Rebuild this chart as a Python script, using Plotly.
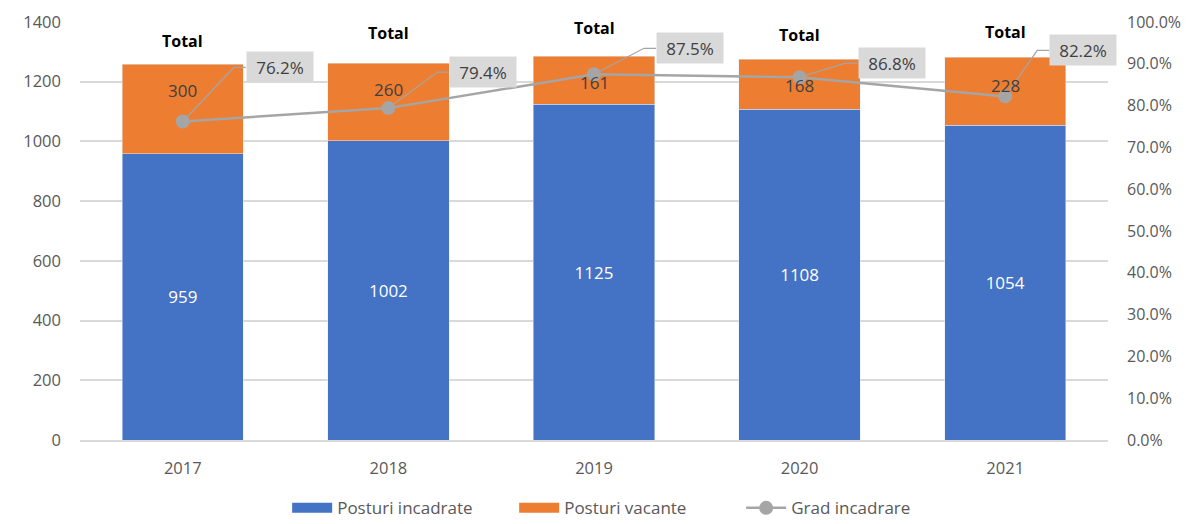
import plotly.graph_objects as go

years = ["2017", "2018", "2019", "2020", "2021"]
incadrate = [959, 1002, 1125, 1108, 1054]
vacante = [300, 260, 161, 168, 228]
grad = [0.762, 0.794, 0.875, 0.868, 0.822]
total_label = "Total"

BLUE = "#4472c4"
ORANGE = "#ed7d31"
GRAY = "#a5a5a5"
TXT = "#595959"
FONT = "Open Sans"

# label styling offsets (pixels)
total_shift = [23, 30, 28, 24, 25]
vac_shift = [18, 13, -2, -1, 6]
box_dx = [63, 61, 62, 58, 44]
box_dy = [54, 36, 26, 14, 46]

totals = [a + b for a, b in zip(incadrate, vacante)]

fig = go.Figure()
fig.add_trace(go.Bar(
    x=years, y=incadrate, name="Posturi incadrate", marker_color=BLUE,
    text=[str(v) for v in incadrate], textposition="inside", insidetextanchor="middle",
    textfont=dict(color="white", size=17, family=FONT), hoverinfo="skip", showlegend=False,
))
fig.add_trace(go.Bar(
    x=years, y=vacante, name="Posturi vacante", marker_color=ORANGE,
    hoverinfo="skip", showlegend=False,
))
# legend swatches (wide rectangles like the original)
fig.add_trace(go.Scatter(x=[None], y=[None], mode="lines", name="Posturi incadrate",
                         line=dict(color=BLUE, width=13), hoverinfo="skip"))
fig.add_trace(go.Scatter(x=[None], y=[None], mode="lines", name="Posturi vacante",
                         line=dict(color=ORANGE, width=13), hoverinfo="skip"))
fig.add_trace(go.Scatter(
    x=years, y=grad, name="Grad incadrare", yaxis="y2", mode="lines+markers",
    line=dict(color=GRAY, width=2.5), marker=dict(color=GRAY, size=14),
    hoverinfo="skip",
))

annotations = []
shapes = []
for i, yr in enumerate(years):
    annotations.append(dict(
        x=i, y=totals[i], xref="x", yref="y", text="<b>" + total_label + "</b>",
        showarrow=False, yshift=total_shift[i], font=dict(size=16, color="black", family=FONT),
    ))
    annotations.append(dict(
        x=i, y=incadrate[i] + vacante[i] / 2, xref="x", yref="y", text=str(vacante[i]),
        showarrow=False, yshift=vac_shift[i], font=dict(size=17, color="#404040", family=FONT),
    ))
    annotations.append(dict(
        x=i, y=grad[i], xref="x", yref="y2", text=f"{grad[i]*100:.1f}%",
        showarrow=False, xanchor="left", yanchor="middle",
        xshift=box_dx[i], yshift=box_dy[i],
        bgcolor="#d9d9d9", borderpad=4, width=58, height=22,
        font=dict(size=17, color="#404040", family=FONT),
    ))
    ex = box_dx[i] - 12
    shapes.append(dict(
        type="path", xref="x", yref="y2", xsizemode="pixel", ysizemode="pixel",
        xanchor=i, yanchor=grad[i],
        path=f"M0,0 L{ex},{box_dy[i]} L{box_dx[i]},{box_dy[i]}",
        line=dict(color=GRAY, width=1.25), layer="above",
    ))

fig.update_layout(
    barmode="stack", bargap=0.41,
    width=1191, height=524,
    margin=dict(l=80, r=83, t=22, b=84, autoexpand=False),
    paper_bgcolor="white", plot_bgcolor="white",
    font=dict(family=FONT, color=TXT, size=16),
    xaxis=dict(type="category", range=[-0.5, len(years) - 0.5], showgrid=False, showline=True,
               linecolor="#d9d9d9", linewidth=1.5,
               tickfont=dict(size=16.5, color=TXT), ticks="", ticklabelstandoff=12),
    yaxis=dict(range=[0, 1400], dtick=200, showgrid=True, gridcolor="#d9d9d9", gridwidth=1.5,
               zeroline=False, tickfont=dict(size=16.5, color=TXT), ticklabelstandoff=18),
    yaxis2=dict(range=[0, 1.0], dtick=0.1, tickformat=".1%", overlaying="y", side="right",
                showgrid=False, zeroline=False, tickfont=dict(size=16, color=TXT),
                ticklabelstandoff=18),
    legend=dict(orientation="h", xref="container", yref="container", x=0.527, y=0.03,
                xanchor="center", yanchor="middle", font=dict(size=17, color=TXT),
                traceorder="normal", entrywidth=172, itemwidth=40),
    annotations=annotations,
    shapes=shapes,
    showlegend=True,
)

fig.write_html("out.html", config={"displayModeBar": False},
               post_script="document.body.style.margin='0';")
